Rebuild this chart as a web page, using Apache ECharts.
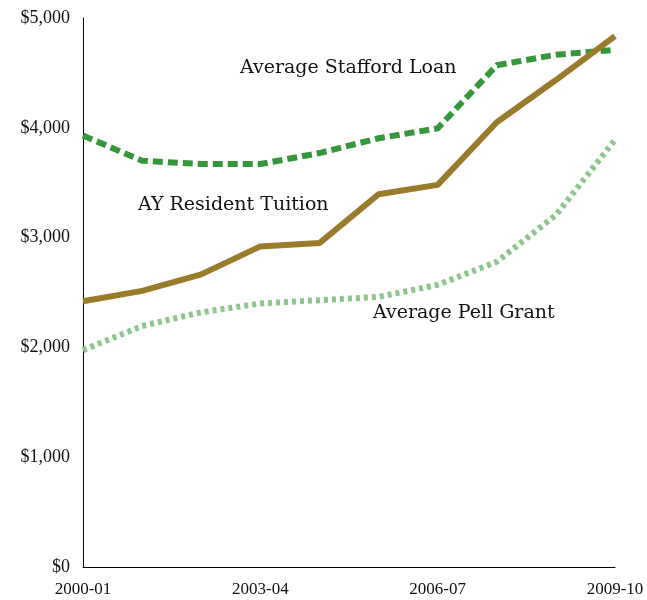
<!DOCTYPE html>
<html><head><meta charset="utf-8">
<script src="https://cdn.jsdelivr.net/npm/echarts@6/dist/echarts.min.js"></script>
<style>html,body{margin:0;padding:0;background:#fff}#c{width:647px;height:600px}</style>
</head><body><div id="c"></div>
<script>
const categories = ['2000-01','2001-02','2002-03','2003-04','2004-05','2005-06','2006-07','2007-08','2008-09','2009-10'];
const shownLabels = ['2000-01','2003-04','2006-07','2009-10'];
const stafford = [3930, 3700, 3670, 3670, 3770, 3905, 3995, 4570, 4665, 4710];
const tuition = [2420, 2515, 2665, 2920, 2950, 3395, 3480, 4050, 4435, 4835];
const pell = [1975, 2195, 2320, 2400, 2430, 2460, 2570, 2780, 3205, 3890];
const yTicks = [0, 1000, 2000, 3000, 4000, 5000];
const font = '"Liberation Serif", "DejaVu Serif", serif';
const labelFont = '"DejaVu Serif", "Liberation Serif", serif';

const chart = echarts.init(document.getElementById('c'));
chart.setOption({
  animation: false,
  textStyle: {fontFamily: font},
  grid: {left: 83, right: 32, top: 18, bottom: 33, containLabel: false},
  xAxis: {
    type: 'category', data: categories, boundaryGap: false,
    axisLine: {lineStyle: {color: '#000', width: 1}},
    axisTick: {show: false},
    axisLabel: {
      interval: 0, color: '#111', fontSize: 17, fontFamily: font, margin: 14,
      formatter: v => shownLabels.includes(v) ? v : ''
    },
    splitLine: {show: false}
  },
  yAxis: {
    type: 'value', min: yTicks[0], max: yTicks[yTicks.length-1], interval: 1000,
    axisLine: {show: true, lineStyle: {color: '#000', width: 1}},
    axisTick: {show: false},
    splitLine: {show: false},
    axisLabel: {
      color: '#111', fontSize: 18, fontFamily: font, margin: 13,
      formatter: v => '$' + v.toLocaleString('en-US')
    }
  },
  series: [
    {name: 'Average Stafford Loan', type: 'line', data: stafford, symbol: 'none',
     lineStyle: {color: '#36963b', width: 6, type: [10, 5]}, z: 2},
    {name: 'AY Resident Tuition', type: 'line', data: tuition, symbol: 'none',
     lineStyle: {color: '#9a7b2b', width: 6}, z: 3},
    {name: 'Average Pell Grant', type: 'line', data: pell, symbol: 'none',
     lineStyle: {color: '#8ec58d', width: 6, type: [4, 4]}, z: 1}
  ],
  graphic: [
    {type: 'text', left: 240, top: 59, style: {text: 'Average Stafford Loan', font: '19px ' + labelFont, fill: '#111'}},
    {type: 'text', left: 138, top: 196, style: {text: 'AY Resident Tuition', font: '19px ' + labelFont, fill: '#111'}},
    {type: 'text', left: 373, top: 304, style: {text: 'Average Pell Grant', font: '19px ' + labelFont, fill: '#111'}}
  ]
});
</script></body></html>
